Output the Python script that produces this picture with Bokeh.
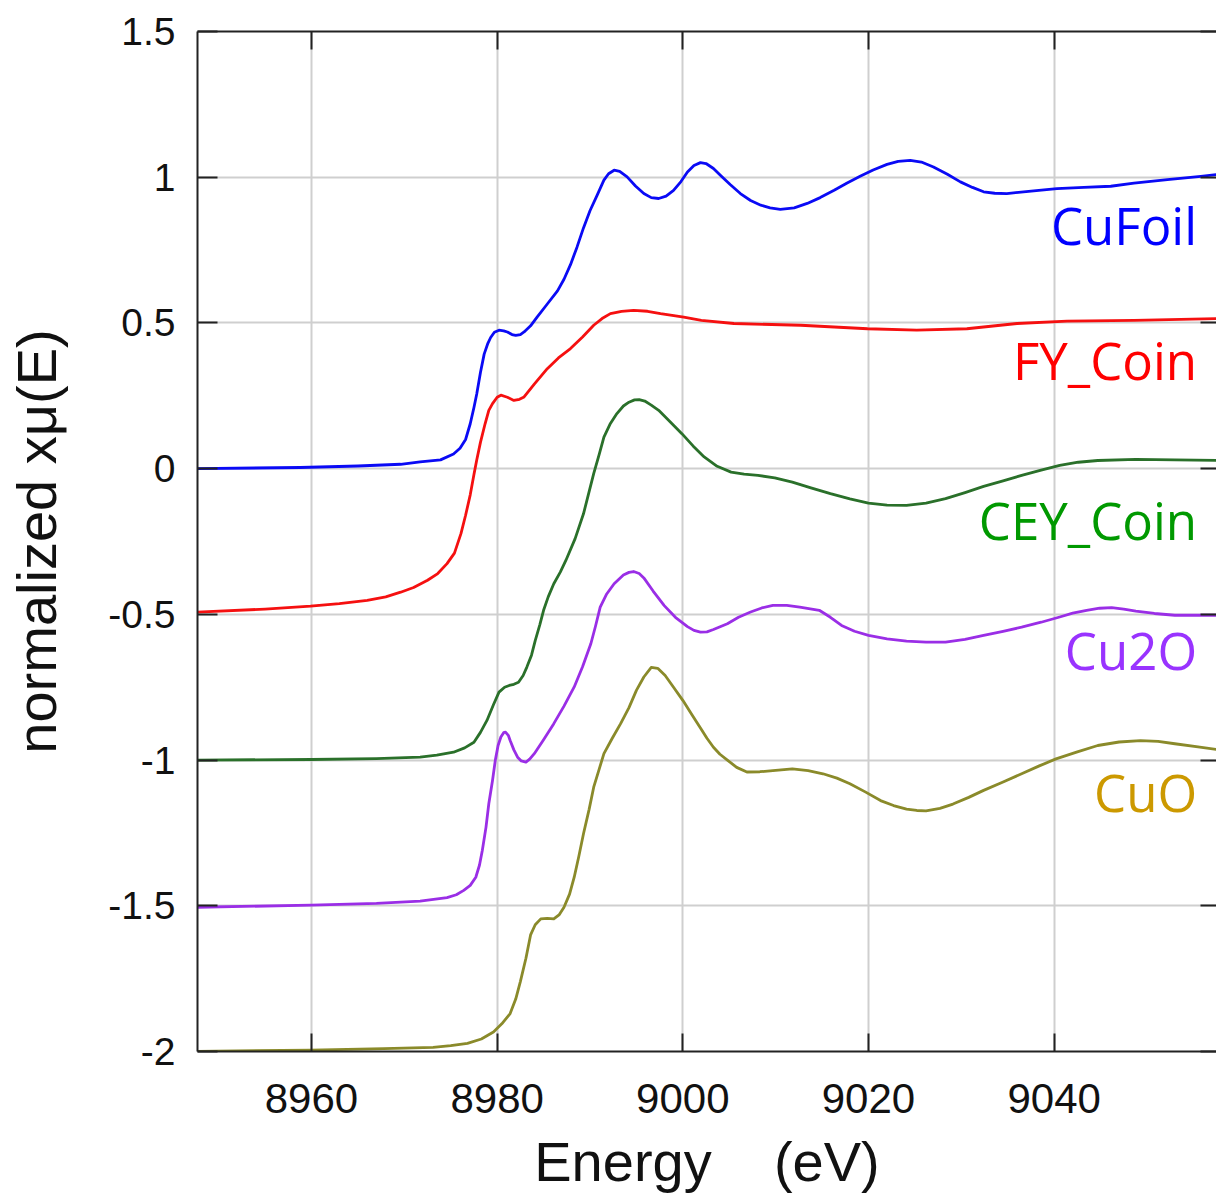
from bokeh.plotting import figure
from bokeh.models import LinearAxis, FixedTicker, CustomJSTickFormatter, Range1d
from bokeh.core.properties import value
from bokeh.embed import file_html
from bokeh.resources import INLINE

# ---------------- data ----------------
cufoil_e = [8947.7, 8958.8, 8965.0, 8969.6, 8971.7, 8973.9, 8975.3, 8976.0, 8976.6, 8977.1,
            8977.5, 8977.8, 8978.2, 8978.6, 8979.0, 8979.3, 8979.7, 8980.2, 8980.7, 8981.1,
            8981.6, 8982.0, 8982.5, 8982.9, 8983.6, 8984.3, 8985.4, 8986.5, 8987.2, 8987.9,
            8988.6, 8989.3, 8990.0, 8990.8, 8991.5, 8992.0, 8992.6, 8993.2, 8994.0, 8994.9,
            8995.8, 8996.6, 8997.4, 8998.2, 8999.0, 8999.8, 9000.5, 9001.2, 9001.9, 9002.5,
            9003.3, 9004.1, 9005.1, 9006.2, 9007.3, 9008.4, 9009.4, 9010.5, 9012.0, 9013.4,
            9014.8, 9016.3, 9017.7, 9019.1, 9020.5, 9022.0, 9023.2, 9024.5, 9025.7, 9027.0,
            9028.5, 9029.9, 9031.2, 9032.4, 9033.6, 9034.9, 9037.8, 9040.3, 9043.2, 9046.1,
            9048.6, 9052.2, 9055.8, 9057.8]
cufoil_y = [0.000, 0.004, 0.009, 0.015, 0.023, 0.030, 0.050, 0.070, 0.100, 0.154,
            0.210, 0.256, 0.330, 0.393, 0.430, 0.450, 0.468, 0.475, 0.473, 0.469,
            0.460, 0.457, 0.460, 0.469, 0.490, 0.520, 0.565, 0.610, 0.650, 0.700,
            0.760, 0.826, 0.885, 0.940, 0.990, 1.012, 1.024, 1.020, 1.001, 0.970,
            0.944, 0.930, 0.927, 0.935, 0.955, 0.985, 1.018, 1.040, 1.050, 1.047,
            1.030, 1.005, 0.975, 0.944, 0.920, 0.904, 0.895, 0.890, 0.895, 0.910,
            0.930, 0.955, 0.980, 1.003, 1.025, 1.044, 1.054, 1.058, 1.052, 1.035,
            1.010, 0.984, 0.965, 0.950, 0.945, 0.944, 0.953, 0.961, 0.965, 0.969,
            0.980, 0.992, 1.003, 1.010]

fy_e = [8947.7, 8955.0, 8959.9, 8963.0, 8966.0, 8968.0, 8969.6, 8971.0, 8972.5, 8973.6,
        8974.6, 8975.4, 8976.1, 8976.6, 8977.1, 8977.5, 8977.8, 8978.2, 8978.7, 8979.1,
        8979.5, 8980.0, 8980.4, 8981.1, 8981.8, 8982.4, 8982.9, 8984.0, 8985.4, 8986.6,
        8987.9, 8989.2, 8990.4, 8991.3, 8992.2, 8993.4, 8994.7, 8996.2, 8997.6, 9000.1,
        9002.0, 9005.5, 9012.7, 9019.9, 9025.2, 9030.6, 9036.0, 9041.4, 9048.6, 9057.8]
fy_y = [-0.492, -0.482, -0.472, -0.463, -0.452, -0.440, -0.424, -0.408, -0.383, -0.360,
        -0.326, -0.290, -0.223, -0.160, -0.090, -0.020, 0.030, 0.090, 0.154, 0.200,
        0.223, 0.245, 0.252, 0.245, 0.234, 0.238, 0.246, 0.290, 0.343, 0.380,
        0.412, 0.452, 0.492, 0.515, 0.532, 0.540, 0.543, 0.540, 0.532, 0.520,
        0.509, 0.498, 0.492, 0.480, 0.475, 0.480, 0.498, 0.506, 0.509, 0.515]

cey_e = [8947.7, 8960.0, 8967.0, 8971.7, 8973.5, 8975.3, 8976.5, 8977.5, 8978.2, 8978.9,
         8979.6, 8980.2, 8980.8, 8981.3, 8981.8, 8982.3, 8982.8, 8983.2, 8983.7, 8984.1,
         8984.6, 8985.0, 8985.5, 8986.1, 8986.8, 8987.4, 8988.4, 8989.3, 8989.9, 8990.4,
         8991.0, 8991.5, 8992.2, 8992.9, 8993.6, 8994.2, 8994.8, 8995.3, 8995.9, 8996.6,
         8997.4, 8998.6, 8999.9, 9001.1, 9002.3, 9003.7, 9005.2, 9006.6, 9008.1, 9009.9,
         9011.8, 9013.8, 9015.9, 9018.0, 9020.0, 9022.0, 9024.1, 9026.2, 9028.3, 9030.4,
         9032.4, 9034.5, 9036.5, 9038.6, 9040.6, 9042.6, 9044.7, 9048.8, 9053.0, 9057.8]
cey_y = [-1.000, -0.998, -0.995, -0.990, -0.983, -0.973, -0.958, -0.939, -0.905, -0.864,
         -0.810, -0.767, -0.750, -0.744, -0.740, -0.733, -0.710, -0.681, -0.640, -0.590,
         -0.535, -0.486, -0.440, -0.395, -0.355, -0.315, -0.240, -0.155, -0.080, -0.017,
         0.050, 0.108, 0.155, 0.189, 0.215, 0.228, 0.236, 0.237, 0.232, 0.218,
         0.200, 0.162, 0.120, 0.078, 0.040, 0.008, -0.012, -0.019, -0.023, -0.032,
         -0.046, -0.066, -0.086, -0.104, -0.118, -0.125, -0.126, -0.118, -0.103, -0.082,
         -0.061, -0.042, -0.023, -0.005, 0.011, 0.022, 0.028, 0.032, 0.030, 0.028]

cu2o_e = [8947.7, 8960.0, 8967.0, 8971.7, 8974.6, 8975.6, 8976.4, 8977.1, 8977.7, 8978.1,
          8978.4, 8978.8, 8979.1, 8979.5, 8979.8, 8980.1, 8980.4, 8980.7, 8980.9, 8981.2,
          8981.4, 8981.8, 8982.2, 8982.6, 8983.1, 8983.5, 8984.0, 8985.0, 8986.1, 8987.2,
          8988.3, 8989.2, 8990.1, 8990.6, 8991.1, 8991.8, 8992.6, 8993.6, 8994.2, 8994.7,
          8995.3, 8995.8, 8996.8, 8998.0, 8999.2, 9000.5, 9001.2, 9001.9, 9002.6, 9003.3,
          9004.8, 9006.0, 9007.3, 9008.5, 9009.7, 9011.2, 9012.6, 9014.7, 9015.9, 9017.1,
          9018.5, 9020.0, 9022.0, 9024.1, 9026.2, 9028.3, 9030.4, 9032.4, 9034.5, 9036.5,
          9038.6, 9040.6, 9042.0, 9043.5, 9044.9, 9046.2, 9047.5, 9048.8, 9050.8, 9053.0,
          9057.8]
cu2o_y = [-1.505, -1.498, -1.492, -1.484, -1.472, -1.462, -1.447, -1.430, -1.402, -1.360,
          -1.310, -1.230, -1.150, -1.070, -1.001, -0.950, -0.921, -0.906, -0.904, -0.915,
          -0.933, -0.965, -0.990, -1.003, -1.007, -0.997, -0.978, -0.930, -0.875, -0.815,
          -0.749, -0.680, -0.600, -0.540, -0.475, -0.430, -0.395, -0.365, -0.356, -0.353,
          -0.360, -0.375, -0.420, -0.470, -0.510, -0.542, -0.555, -0.561, -0.560, -0.552,
          -0.532, -0.510, -0.492, -0.478, -0.469, -0.469, -0.475, -0.486, -0.510, -0.538,
          -0.558, -0.572, -0.584, -0.592, -0.595, -0.595, -0.586, -0.572, -0.558, -0.544,
          -0.527, -0.509, -0.496, -0.486, -0.479, -0.477, -0.482, -0.489, -0.497, -0.503,
          -0.503]

cuo_e = [8947.7, 8959.9, 8967.8, 8973.1, 8975.0, 8976.8, 8978.3, 8979.6, 8980.5, 8981.4,
         8982.0, 8982.5, 8983.1, 8983.6, 8984.1, 8984.7, 8985.4, 8986.1, 8986.7, 8987.2,
         8987.8, 8988.3, 8988.8, 8989.3, 8989.9, 8990.4, 8991.0, 8991.5, 8992.4, 8993.3,
         8994.2, 8995.0, 8995.8, 8996.6, 8997.3, 8998.1, 8999.0, 9000.0, 9001.0, 9001.9,
         9002.6, 9003.3, 9004.0, 9004.8, 9005.8, 9006.9, 9008.3, 9009.7, 9011.8, 9013.5,
         9015.1, 9016.6, 9018.0, 9019.7, 9021.3, 9022.7, 9024.1, 9025.2, 9026.2, 9027.7,
         9029.1, 9030.8, 9032.4, 9034.5, 9036.5, 9038.4, 9040.2, 9042.5, 9044.7, 9047.0,
         9049.3, 9051.2, 9053.0, 9055.5, 9057.8]
cuo_y = [-2.000, -1.995, -1.990, -1.986, -1.980, -1.972, -1.957, -1.933, -1.905, -1.870,
         -1.820, -1.760, -1.680, -1.600, -1.565, -1.545, -1.543, -1.545, -1.530, -1.505,
         -1.460, -1.402, -1.330, -1.253, -1.170, -1.093, -1.030, -0.978, -0.925, -0.875,
         -0.820, -0.761, -0.715, -0.682, -0.685, -0.710, -0.750, -0.795, -0.845, -0.890,
         -0.925, -0.956, -0.980, -1.000, -1.025, -1.041, -1.040, -1.036, -1.030, -1.036,
         -1.047, -1.062, -1.081, -1.110, -1.139, -1.156, -1.168, -1.173, -1.174, -1.166,
         -1.151, -1.128, -1.104, -1.075, -1.047, -1.020, -0.996, -0.972, -0.950, -0.938,
         -0.933, -0.936, -0.944, -0.955, -0.965]

series_names = ["CuFoil", "FY_Coin", "CEY_Coin", "Cu2O", "CuO"]
x_ticks = [8960, 8980, 9000, 9020, 9040]
y_ticks = [-2, -1.5, -1, -0.5, 0, 0.5, 1, 1.5]

# ---------------- styling / layout ----------------
line_colors = ["#0a0af5", "#f51010", "#2a702a", "#9a2ee6", "#8a8a2a"]
text_colors = ["#0000ff", "#ff0000", "#009900", "#9933ff", "#cc9900"]
label_x = [9055.4] * 5
label_y = [0.835, 0.372, -0.177, -0.624, -1.111]

p = figure(width=1216, height=1196,
           x_range=Range1d(8947.72, 9057.49), y_range=Range1d(-2, 1.5),
           output_backend="svg", toolbar_location=None,
           min_border_left=197, min_border_top=31, min_border_right=0, min_border_bottom=145,
           x_axis_label="Energy\u00a0\u00a0\u00a0\u00a0(eV)", y_axis_label="normalized xμ(E)")
p.outline_line_color = None
p.background_fill_color = "white"

tick_font = "Liberation Sans"

xa = p.xaxis[0]
xa.ticker = FixedTicker(ticks=x_ticks)
xa.major_tick_in = 18
xa.major_tick_out = 0
xa.minor_tick_line_color = None
xa.axis_line_width = 2
xa.axis_line_color = "#222222"
xa.major_tick_line_width = 2
xa.major_tick_line_color = "#222222"
xa.major_label_text_font = tick_font
xa.major_label_text_font_size = "42px"
xa.major_label_text_color = "#111111"
xa.major_label_standoff = 32
xa.axis_label_text_font = tick_font
xa.axis_label_text_font_size = "56px"
xa.axis_label_text_font_style = "normal"
xa.axis_label_text_color = "#111111"
xa.axis_label_standoff = 14

ya = p.yaxis[0]
ya.ticker = FixedTicker(ticks=y_ticks)
ya.formatter = CustomJSTickFormatter(code="return String(tick);")
ya.major_tick_in = 20
ya.major_tick_out = 0
ya.minor_tick_line_color = None
ya.axis_line_width = 2
ya.axis_line_color = "#222222"
ya.major_tick_line_width = 2
ya.major_tick_line_color = "#222222"
ya.major_label_text_font = tick_font
ya.major_label_text_font_size = "39px"
ya.major_label_text_color = "#111111"
ya.major_label_standoff = 22
ya.axis_label_text_font = tick_font
ya.axis_label_text_font_size = "56px"
ya.axis_label_text_font_style = "normal"
ya.axis_label_text_color = "#111111"
ya.axis_label_standoff = 37

blank = CustomJSTickFormatter(code="return '';")
top_axis = LinearAxis(ticker=FixedTicker(ticks=x_ticks), formatter=blank,
                      major_tick_in=18, major_tick_out=0, minor_tick_line_color=None,
                      axis_line_width=2, axis_line_color="#222222",
                      major_tick_line_width=2, major_tick_line_color="#222222",
                      major_label_text_font_size="0px", major_label_standoff=0)
p.add_layout(top_axis, "above")
right_axis = LinearAxis(ticker=FixedTicker(ticks=y_ticks), formatter=blank,
                        major_tick_in=16, major_tick_out=0, minor_tick_line_color=None,
                        axis_line_color=None,
                        major_tick_line_width=2, major_tick_line_color="#222222",
                        major_label_text_font_size="0px", major_label_standoff=0)
p.add_layout(right_axis, "right")

for g in (p.xgrid[0], p.ygrid[0]):
    g.grid_line_color = "#cfcfcf"
    g.grid_line_width = 2
p.xgrid[0].ticker = FixedTicker(ticks=x_ticks)
p.ygrid[0].ticker = FixedTicker(ticks=y_ticks)

all_e = [cufoil_e, fy_e, cey_e, cu2o_e, cuo_e]
all_y = [cufoil_y, fy_y, cey_y, cu2o_y, cuo_y]
for e, yv, c in zip(all_e, all_y, line_colors):
    p.line(e, yv, line_color=c, line_width=2.8, line_join="round")

p.text(x=label_x, y=label_y, text=series_names, text_color=text_colors,
       text_font=value("Open Sans"), text_font_size=value("51px"),
       text_align="right", text_baseline="alphabetic")

open("out.html", "w").write(file_html(p, INLINE))
